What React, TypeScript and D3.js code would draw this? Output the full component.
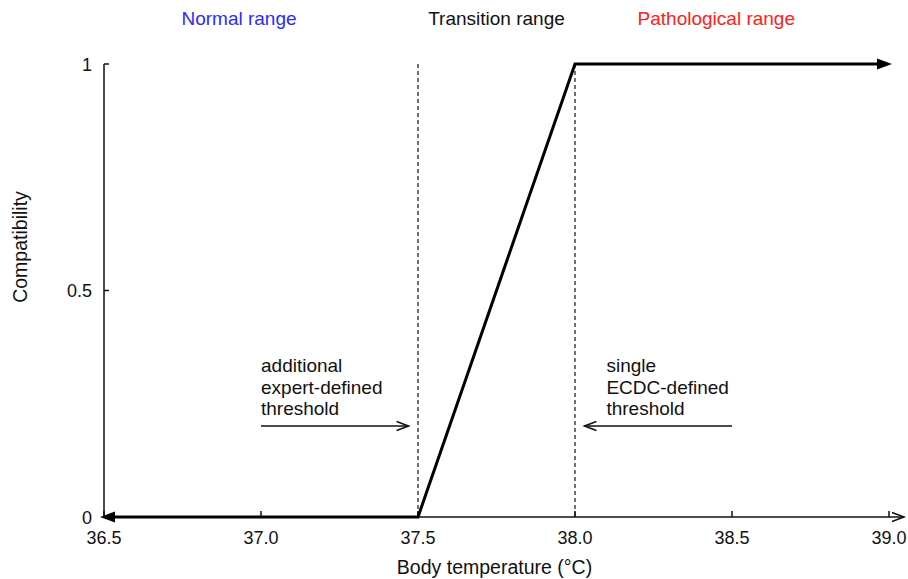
import * as d3 from "d3";

const W = 908;
const H = 579;
const MARGIN = { top: 64, right: 19, bottom: 62, left: 104 };

// membership function: body temperature -> compatibility
const temps = [36.5, 37.5, 38.0, 39.0];
const compat = [0, 0, 1, 1];
const thresholds = [37.5, 38.0];
const xTicks = [36.5, 37.0, 37.5, 38.0, 38.5, 39.0];
const yTicks = [0, 0.5, 1];
const rangeLabels = [
  { label: "Normal range", at: 36.93, color: "#2b2bff" },
  { label: "Transition range", at: 37.75, color: "#111" },
  { label: "Pathological range", at: 38.45, color: "#ff2020" },
];
const notes = [
  { lines: ["additional", "expert-defined", "threshold"], from: 37.0, to: 37.47 },
  { lines: ["single", "ECDC-defined", "threshold"], from: 38.5, to: 38.03 },
];

const FONT = "'Liberation Sans', Arial, sans-serif";

export default function App() {
  const x = d3.scaleLinear().domain([36.5, 39.0]).range([MARGIN.left, W - MARGIN.right]);
  const y = d3.scaleLinear().domain([0, 1]).range([H - MARGIN.bottom, MARGIN.top]);
  const x0 = x(36.5);
  const y0 = y(0);

  const pts: [number, number][] = temps.map((t, i) => [x(t), y(compat[i])]);
  // pull the ends in a little so the arrowheads sit at the ends
  const linePts: [number, number][] = pts.map((p, i) =>
    i === 0 ? [p[0] + 8, p[1]] : i === pts.length - 1 ? [p[0] - 8, p[1]] : p
  );
  const line = d3.line();

  const filledHead = (tipX: number, tipY: number, dir: number) => {
    const len = 15, half = 5.5;
    return `M${tipX},${tipY} L${tipX - dir * len},${tipY - half} L${tipX - dir * len},${tipY + half} Z`;
  };
  const openHead = (tipX: number, tipY: number, dir: number) => {
    const len = 12, half = 4.5;
    return `M${tipX - dir * len},${tipY - half} L${tipX},${tipY} L${tipX - dir * len},${tipY + half}`;
  };

  const firstP = pts[0];
  const lastP = pts[pts.length - 1];
  const axisEnd = x(39.0) + 15;
  const noteY = y0 - 91;

  return (
    <svg width={W} height={H} style={{ position: "absolute", left: 0, top: 0, background: "white" }} fontFamily={FONT}>
      {/* range labels */}
      {rangeLabels.map((r) => (
        <text key={r.label} x={x(r.at)} y={25} textAnchor="middle" fontSize={19} fill={r.color}>
          {r.label}
        </text>
      ))}

      {/* threshold lines */}
      {thresholds.map((t) => (
        <line key={t} x1={x(t)} x2={x(t)} y1={y(1)} y2={y0} stroke="#111" strokeWidth={1.2} strokeDasharray="4,3" />
      ))}

      {/* y axis */}
      <line x1={x0} x2={x0} y1={y(1)} y2={y0} stroke="#111" strokeWidth={1.5} />
      {yTicks.map((t) => (
        <g key={t}>
          <line x1={x0} x2={x0 + 5} y1={y(t)} y2={y(t)} stroke="#111" strokeWidth={1.5} />
          <text x={x0 - 12} y={y(t) + 6.5} textAnchor="end" fontSize={18} fill="#111">
            {String(t)}
          </text>
        </g>
      ))}
      <text transform={`translate(27,247) rotate(-90)`} textAnchor="middle" fontSize={19.5} fill="#111">
        Compatibility
      </text>

      {/* x axis */}
      <line x1={x0} x2={axisEnd} y1={y0} y2={y0} stroke="#111" strokeWidth={1.5} />
      <path d={openHead(axisEnd, y0, 1)} fill="none" stroke="#111" strokeWidth={1.5} />
      {xTicks.map((t) => (
        <g key={t}>
          <line x1={x(t)} x2={x(t)} y1={y0} y2={y0 - 6} stroke="#111" strokeWidth={1.5} />
          <text x={x(t)} y={y0 + 27} textAnchor="middle" fontSize={18} fill="#111">
            {d3.format(".1f")(t)}
          </text>
        </g>
      ))}
      <text x={(x(36.5) + x(39.0)) / 2 - 2} y={574} textAnchor="middle" fontSize={19.5} fill="#111">
        Body temperature (°C)
      </text>

      {/* compatibility curve */}
      <path d={line(linePts) ?? ""} fill="none" stroke="#000" strokeWidth={3} strokeLinejoin="miter" />
      <path d={filledHead(firstP[0] - 4, firstP[1], -1)} fill="#000" />
      <path d={filledHead(lastP[0] + 3, lastP[1], 1)} fill="#000" />

      {/* annotations: one text block per note, lines as tspans */}
      {notes.map((n) => {
        const textX = n.from < n.to ? x(n.from) : x(n.to) + 22;
        const dir = n.to > n.from ? 1 : -1;
        return (
          <g key={n.lines[0]}>
            <text x={textX} y={noteY - 54} fontSize={19} fill="#111">
              {n.lines.map((l, i) => (
                <tspan key={l} x={textX} dy={i === 0 ? 0 : 21.5}>
                  {l}
                </tspan>
              ))}
            </text>
            <line x1={x(n.from)} x2={x(n.to)} y1={noteY} y2={noteY} stroke="#111" strokeWidth={1.5} />
            <path d={openHead(x(n.to), noteY, dir)} fill="none" stroke="#111" strokeWidth={1.5} />
          </g>
        );
      })}
    </svg>
  );
}
